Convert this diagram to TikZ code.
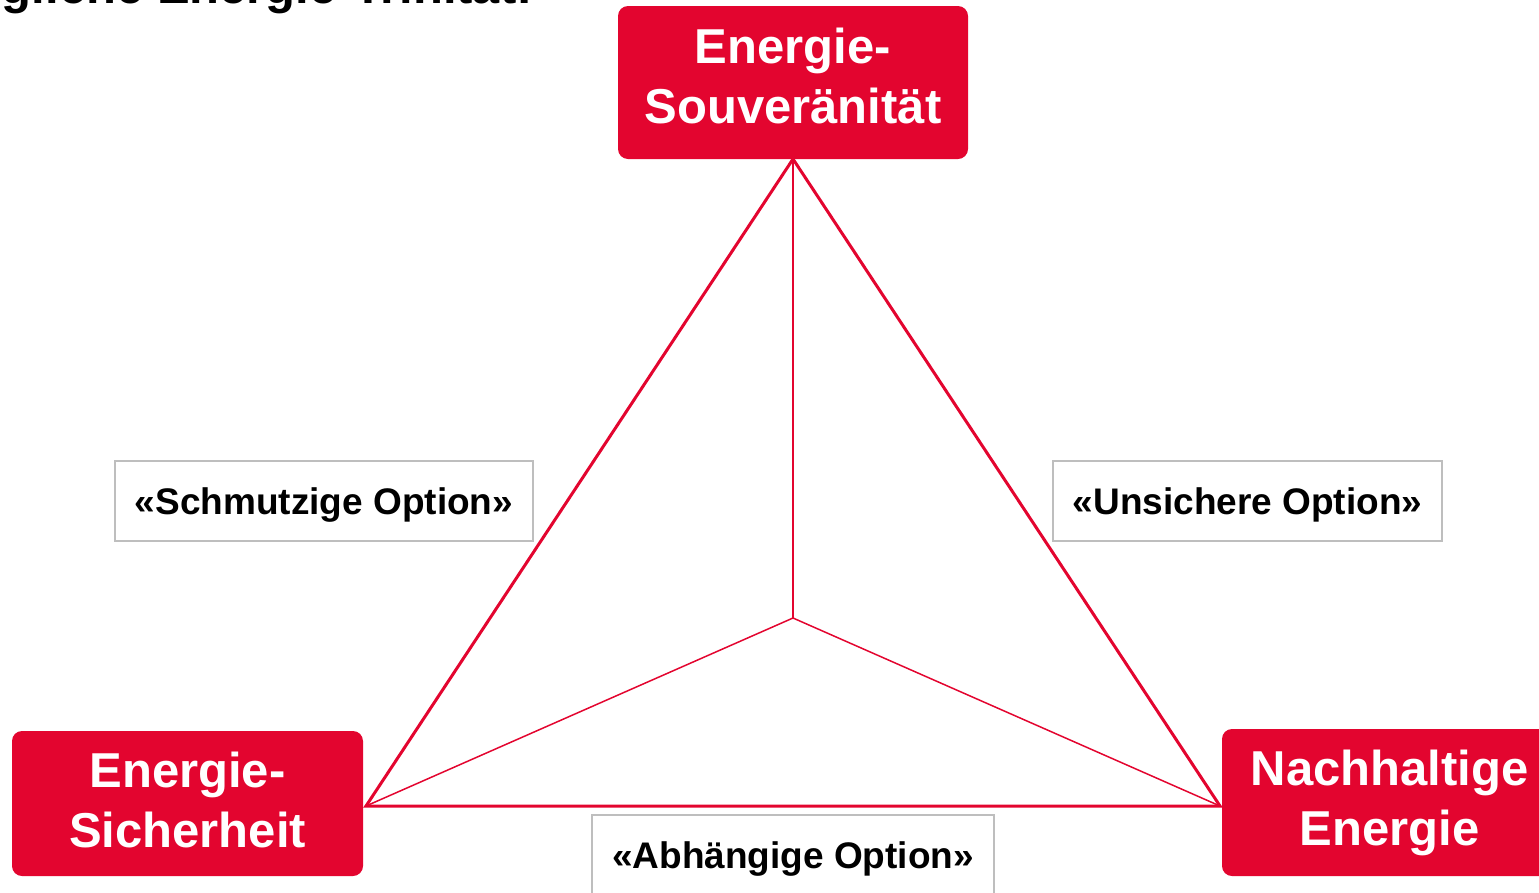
\documentclass[tikz,border=0pt]{standalone}
\usepackage{fontspec}
\setmainfont{Liberation Sans}
\definecolor{trired}{RGB}{227,5,47}
\definecolor{boxgray}{RGB}{190,190,190}
\begin{document}
\begin{tikzpicture}[x=1pt,y=-1pt,
  corner/.style={fill=trired, rounded corners=10pt, text=white, align=center,
    font=\fontsize{49}{60}\selectfont\bfseries, inner sep=0pt, text height=96pt},
  optbox/.style={draw=boxgray, line width=1.5pt, fill=white, inner sep=0pt,
    font=\fontsize{37}{42}\selectfont\bfseries, text=black,
    text height=27pt, text depth=0pt},
  edge/.style={draw=trired, line width=3pt, line join=miter},
  spoke/.style={draw=trired, line width=1.5pt}]
\useasboundingbox (0,0) rectangle (1539,892);
% title (cut off at the top)
\node[anchor=base east, inner sep=0pt, font=\fontsize{49}{58}\selectfont\bfseries] (title) at (533,3) {Unmögliche Energie-Trinität:};
% triangle vertices
\coordinate (A) at (793,159);
\coordinate (B) at (366,806);
\coordinate (C) at (1220,806);
\coordinate (O) at (793,618);
% labels
\node[optbox, minimum width=418pt, minimum height=80pt] (dirty) at (324,501) {«Schmutzige Option»};
\node[optbox, minimum width=389pt, minimum height=80pt] (unsafe) at (1247.5,501) {«Unsichere Option»};
\node[optbox, minimum width=402pt, minimum height=80pt] (dep) at (793,855) {«Abhängige Option»};
% triangle
\draw[spoke] (O) -- (A);
\draw[spoke] (O) -- (B);
\draw[spoke] (O) -- (C);
\draw[edge] (A) -- (B) -- (C) -- cycle;
% corners
\node[corner, text depth=14.6pt, minimum width=350pt, minimum height=153pt] (sov) at (793,82.5) {Energie-\\Souveränität};
\node[corner, text depth=8.6pt, minimum width=351pt, minimum height=145pt] (sec) at (187.5,803.5) {Energie-\\Sicherheit};
\node[corner, text depth=11pt, minimum width=335pt, minimum height=147pt] (sus) at (1389.5,802.5) {Nachhaltige\\Energie};
\end{tikzpicture}
\end{document}
